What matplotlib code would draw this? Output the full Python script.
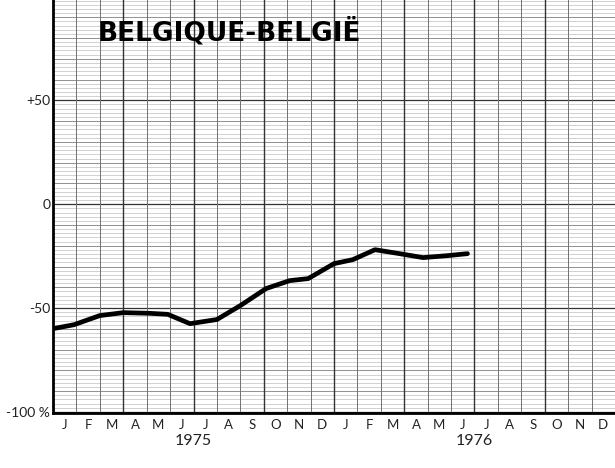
import matplotlib
matplotlib.use('Agg')
import matplotlib.pyplot as plt
import numpy as np

# Indice mensuel Belgique, 1975-1976
mois = ['J', 'F', 'M', 'A', 'M', 'J', 'J', 'A', 'S', 'O', 'N', 'D'] * 2
annees = ['1975', '1976']
position_mois = [0, 0.9, 2.0, 3.0, 4.1, 4.9, 5.85, 7.0, 8.0, 9.1, 10.1, 10.9,
                 12.0, 12.8, 13.75, 14.8, 15.8, 16.8, 17.7]
valeurs = [-59.9, -58.0, -53.6, -52.2, -52.5, -53.0, -57.5, -55.5, -48.8, -40.6,
           -36.8, -35.8, -28.6, -26.7, -21.9, -23.8, -25.7, -24.8, -23.8]
yticks = [50, 0, -50, -100]
ytick_labels = ['+50', '0', '-50', '-100 %']

plt.rcParams['font.family'] = ['Lato', 'DejaVu Sans']

fig = plt.figure(figsize=(6.15, 4.68), dpi=100)
ax = fig.add_axes([53 / 615, 55 / 468, 562 / 615, 413 / 468])
ax.set_xlim(0, 24)
ax.set_ylim(-100.5, 98.3)

# Quadrillage horizontal : fin tous les 2 %, moyen tous les 10 %, fort tous les 50 %
for y in np.arange(-100, 100, 2):
    if y % 50 == 0:
        ax.axhline(y, color='#333333', lw=0.9, zorder=1)
    elif y % 10 == 0:
        ax.axhline(y, color='#808080', lw=0.6, zorder=1)
    else:
        ax.axhline(y, color='#b8b8b8', lw=0.45, zorder=1)

# Quadrillage vertical : chaque mois, plus fort chaque trimestre
for x in range(1, 24):
    if x % 3 == 0:
        ax.axvline(x, color='#333333', lw=1.0, zorder=1)
    else:
        ax.axvline(x, color='#707070', lw=0.7, zorder=1)

ax.plot(position_mois, valeurs, color='black', lw=3.4, solid_capstyle='round',
        solid_joinstyle='round', zorder=3)

ax.text(1.92, 83, 'BELGIQUE-BELGIË', fontsize=19, fontweight='bold',
        family=['DejaVu Sans'],
        ha='left', va='center', color='black', zorder=4)

ax.set_xticks(np.arange(24) + 0.5)
ax.set_xticklabels(mois, fontsize=9.5, color='#222222')
ax.set_yticks(yticks)
ax.set_yticklabels(ytick_labels, fontsize=10, color='#222222')
ax.tick_params(axis='x', length=0, pad=4)
ax.tick_params(axis='y', length=0, pad=2)

for i, annee in enumerate(annees):
    ax.text(6 + 12 * i, -0.067, annee, transform=ax.get_xaxis_transform(),
            ha='center', va='center', fontsize=11.5, color='#222222')

for side in ['top', 'right']:
    ax.spines[side].set_visible(False)
ax.spines['left'].set_linewidth(2)
ax.spines['bottom'].set_linewidth(2)

fig.savefig('out.png', dpi=100)
